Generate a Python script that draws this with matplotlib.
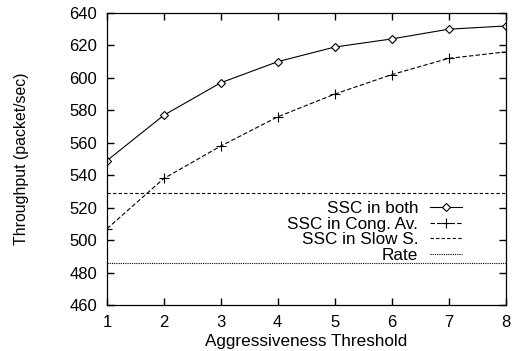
import matplotlib
matplotlib.use('Agg')
import numpy as np
import matplotlib.pyplot as plt

plt.rcParams['font.family'] = ['Liberation Sans', 'DejaVu Sans']

threshold = [1, 2, 3, 4, 5, 6, 7, 8]
ssc_both = [549, 577, 597, 610, 619, 624, 630, 632]
ssc_cong = [507, 538, 558, 576, 590, 602, 612, 616]
ssc_slow = 529
rate = 486

fig = plt.figure(figsize=(5.19, 3.51), dpi=100)
ax = fig.add_axes([0.206, 0.131, 0.768, 0.832])

ax.plot(threshold, ssc_both, '-', color='black', lw=0.8, marker='D',
        markersize=4.5, mfc='white', mew=0.8, label='SSC in both')
ax.plot(threshold, ssc_cong, color='black', lw=0.8, ls=(0, (4, 2)),
        marker='+', markersize=7, mew=0.8, label='SSC in Cong. Av.')
ax.plot([threshold[0], threshold[-1]], [ssc_slow]*2, color='black', lw=0.8,
        ls=(0, (3, 2)), label='SSC in Slow S.')
ax.plot([threshold[0], threshold[-1]], [rate]*2, color='black', lw=0.8,
        ls=(0, (1, 1)), label='Rate')

ax.set_xlim(1, 8)
ax.set_ylim(460, 640)
ax.set_xticks(threshold)
ax.set_yticks(np.arange(460, 641, 20))
ax.tick_params(direction='in', top=True, right=True, length=5, width=1,
               labelsize=12, pad=7)
for s in ax.spines.values():
    s.set_linewidth(0.9)

ax.set_xlabel('Aggressiveness Threshold', fontsize=12.3, labelpad=3)
ax.set_ylabel('Throughput (packet/sec)', fontsize=11.4, labelpad=29)

leg = ax.legend(loc='center right', bbox_to_anchor=(0.891, 0.25),
                markerfirst=False, frameon=False, fontsize=12.3,
                handlelength=1.9, handletextpad=0.66, labelspacing=0.05,
                borderpad=0, borderaxespad=0)
# right-align the rows like gnuplot does
for col in leg._legend_handle_box.get_children():
    col.align = 'right'

fig.savefig('out.png', dpi=100)
